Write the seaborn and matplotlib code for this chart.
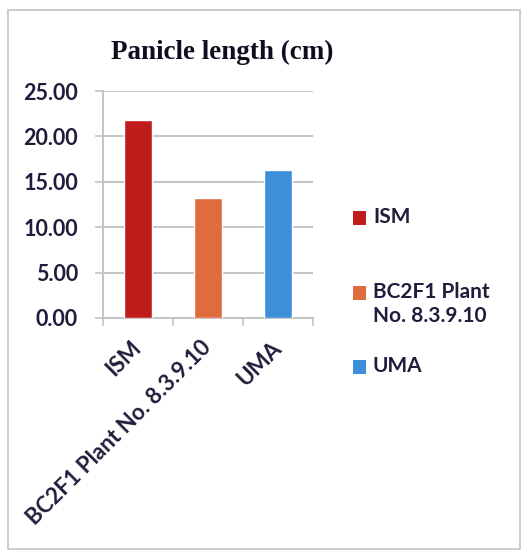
import matplotlib
matplotlib.use("Agg")
import matplotlib.pyplot as plt
import matplotlib.patches as mpatches
from matplotlib.ticker import FixedLocator, FormatStrFormatter
import seaborn as sns
import pandas as pd

# Data
categories = ["ISM", "BC2F1 Plant No. 8.3.9.10", "UMA"]
legend_labels = ["ISM", "BC2F1 Plant\nNo. 8.3.9.10", "UMA"]
panicle_length = [21.78, 13.24, 16.28]
y_ticks = [0, 5, 10, 15, 20, 25]
bar_colors = ["#C01C1C", "#DE6C3C", "#3E8FDA"]

sns.set_theme(style="white")
plt.rcParams["font.family"] = ["Lato", "DejaVu Sans"]

TEXT = "#1e1e3c"
GRID = "#c4c4c4"
W, H = 525, 553

fig = plt.figure(figsize=(W / 100, H / 100), dpi=100)
fig.patch.set_facecolor("white")

# Chart-area border
fig.patches.append(mpatches.Rectangle((8 / W, 1 - 549 / H), 512 / W, 539 / H,
                                      transform=fig.transFigure, fill=False,
                                      edgecolor="#c8c8c8", linewidth=1.3))

ax = fig.add_axes([103 / W, 1 - 318 / H, 210 / W, 227 / H])

df = pd.DataFrame({"variety": categories, "length": panicle_length})
sns.barplot(data=df, x="variety", y="length", hue="variety",
            palette=bar_colors, width=0.4, legend=False, ax=ax,
            saturation=1, zorder=3)

ax.set_xlim(-0.5, 2.5)
ax.set_ylim(0, 25)
ax.set_yticks(y_ticks)
ax.yaxis.set_major_formatter(FormatStrFormatter("%.2f"))
ax.set_xlabel("")
ax.set_ylabel("")

ax.grid(axis="y", color=GRID, linewidth=1.4, zorder=0)
for side in ("top", "right"):
    ax.spines[side].set_visible(False)
for side in ("left", "bottom"):
    ax.spines[side].set_color(GRID)
    ax.spines[side].set_linewidth(1.4)

ax.tick_params(axis="y", which="major", direction="out", length=6, width=1.2,
               color=GRID, labelsize=15.5, labelcolor=TEXT, pad=12, left=True)
ax.xaxis.set_minor_locator(FixedLocator([-0.5, 0.5, 1.5, 2.5]))
ax.tick_params(axis="x", which="minor", direction="out", length=6, width=1.2,
               color=GRID, bottom=True)
ax.tick_params(axis="x", which="major", length=0, labelsize=16,
               labelcolor=TEXT, pad=19)
for lab in ax.get_xticklabels():
    lab.set_rotation(45)
    lab.set_ha("right")
    lab.set_va("center")
    lab.set_rotation_mode("anchor")
for lab in ax.get_yticklabels() + ax.get_xticklabels():
    lab.set_fontweight("bold")

fig.text(222 / W, 1 - 52 / H, "Panicle length (cm)", ha="center", va="center",
         fontsize=19.5, fontweight="bold", color="#0e0e20",
         family=["Liberation Serif", "DejaVu Serif"])

# Legend: colour keys aligned with the first line of each entry
key_y = [218, 293, 367]
for label, color, yk in zip(legend_labels, bar_colors, key_y):
    fig.patches.append(mpatches.Rectangle((353 / W, 1 - (yk + 7) / H), 13 / W, 14 / H,
                                          transform=fig.transFigure,
                                          facecolor=color, edgecolor="none"))
    fig.text(373 / W, 1 - (yk - 11) / H, label, ha="left", va="top",
             fontsize=15, fontweight="bold", color=TEXT, linespacing=1.25)

fig.savefig("out.png", dpi=100, facecolor="white")
